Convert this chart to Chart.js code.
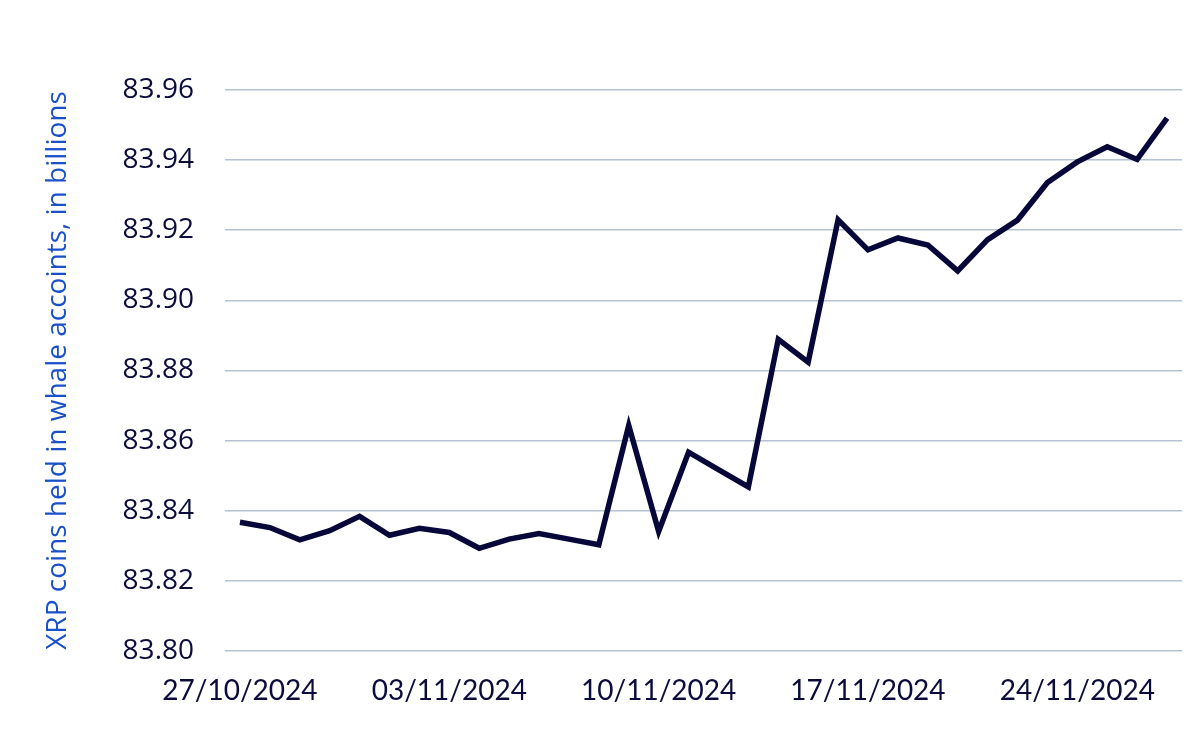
<!DOCTYPE html>
<html lang="en">
  <head>
    <meta charset="UTF-8" />
    <title>XRP whale accounts</title>
    <script src="https://cdn.jsdelivr.net/npm/chart.js"></script>
    <style>
      html,
      body {
        margin: 0;
        padding: 0;
        background: #ffffff;
      }
      .chart-box {
        position: relative;
        width: 1200px;
        height: 750px;
      }
    </style>
  </head>
  <body>
    <div class="chart-box">
      <canvas id="chart"></canvas>
    </div>

    <script>
      // daily observations, 27/10/2024 .. 27/11/2024
      const dates = [
        "27/10/2024", "28/10/2024", "29/10/2024", "30/10/2024", "31/10/2024",
        "01/11/2024", "02/11/2024", "03/11/2024", "04/11/2024", "05/11/2024",
        "06/11/2024", "07/11/2024", "08/11/2024", "09/11/2024", "10/11/2024",
        "11/11/2024", "12/11/2024", "13/11/2024", "14/11/2024", "15/11/2024",
        "16/11/2024", "17/11/2024", "18/11/2024", "19/11/2024", "20/11/2024",
        "21/11/2024", "22/11/2024", "23/11/2024", "24/11/2024", "25/11/2024",
        "26/11/2024", "27/11/2024",
      ];

      // XRP held in whale accounts, billions
      const whaleHoldings = [
        83.8367, 83.8352, 83.8317, 83.8343, 83.8384, 83.833, 83.835, 83.8338,
        83.8293, 83.8319, 83.8335, 83.8319, 83.8303, 83.8643, 83.8341, 83.8567,
        83.8517, 83.8468, 83.8889, 83.8824, 83.923, 83.9144, 83.9178, 83.9158,
        83.9084, 83.9173, 83.9229, 83.9336, 83.9395, 83.9438, 83.9402, 83.952,
      ];

      const yTicks = [83.8, 83.82, 83.84, 83.86, 83.88, 83.9, 83.92, 83.94, 83.96];

      const navy = "#0c0c3c";
      const ctx = document.getElementById("chart").getContext("2d");

      new Chart(ctx, {
        type: "line",
        data: {
          labels: dates,
          datasets: [
            {
              label: "XRP coins held in whale accoints",
              data: whaleHoldings,
              borderColor: "#07073a",
              borderWidth: 5.5,
              pointRadius: 0,
              tension: 0,
              fill: false,
            },
          ],
        },
        options: {
          responsive: true,
          maintainAspectRatio: false,
          animation: false,
          layout: {
            padding: { top: 90, right: 18, bottom: 0, left: 0 },
          },
          plugins: {
            legend: { display: false },
            tooltip: { enabled: false },
          },
          scales: {
            x: {
              offset: true,
              grid: { display: false, drawTicks: false },
              border: { display: false },
              ticks: {
                autoSkip: false,
                maxRotation: 0,
                padding: 23,
                color: navy,
                font: { family: "Lato", size: 28 },
                callback: function (value, index) {
                  return index % 7 === 0 ? dates[index] : null;
                },
              },
              afterFit: (scale) => {
                scale.height = 99;
              },
            },
            y: {
              min: 83.8,
              max: 83.96,
              afterBuildTicks: (scale) => {
                scale.ticks = yTicks.map((v) => ({ value: v }));
              },
              grid: {
                color: "#b4c2d2",
                lineWidth: 1.5,
                drawTicks: false,
              },
              border: { display: false },
              ticks: {
                padding: 31,
                color: navy,
                font: { family: "Open Sans", size: 28 },
                callback: (value) => value.toFixed(2),
              },
              title: {
                display: true,
                text: "XRP coins held in whale accoints, in billions",
                color: "#1a50c8",
                font: { family: "Open Sans", size: 28 },
                padding: { top: 41, bottom: 0 },
              },
              afterFit: (scale) => {
                scale.width = 225;
              },
            },
          },
        },
      });
    </script>
  </body>
</html>
